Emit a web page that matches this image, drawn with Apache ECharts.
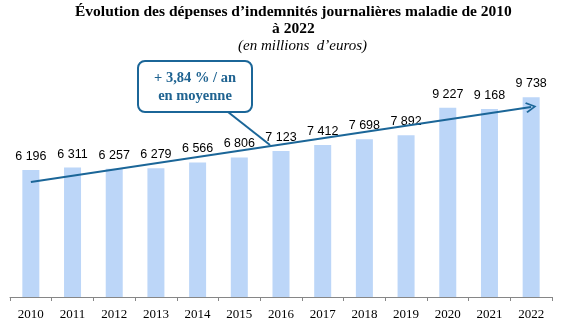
<!DOCTYPE html>
<html><head><meta charset="utf-8">
<script src="https://cdn.jsdelivr.net/npm/echarts@6/dist/echarts.min.js"></script>
<style>html,body{margin:0;padding:0;background:#fff}#c{width:566px;height:330px}</style>
</head><body><div id="c"></div>
<script>
const years = ['2010','2011','2012','2013','2014','2015','2016','2017','2018','2019','2020','2021','2022'];
const values = [6196,6311,6257,6279,6566,6806,7123,7412,7698,7892,9227,9168,9738];
const trendStart = ['2010', 5610];
const trendEnd = ['2022', 9270];
const titleLine1 = 'Évolution des dépenses d’indemnités journalières maladie de 2010';
const titleLine2 = 'à 2022';
const subtitle = '(en millions  d’euros)';
const calloutLines = ['+ 3,84 % / an', 'en moyenne'];

const fmt = v => String(v).replace(/\B(?=(\d{3})+(?!\d))/g, ' ');
const chart = echarts.init(document.getElementById('c'), null, {renderer:'canvas'});
const blue = '#1b6698';
chart.setOption({
  animation:false,
  grid:{left:10, right:14, top:51, bottom:33},
  xAxis:{type:'category', data:years,
    axisLine:{lineStyle:{color:'#868686', width:1}},
    axisTick:{show:true, length:4, lineStyle:{color:'#868686'}},
    axisLabel:{color:'#000', fontFamily:'Liberation Serif', fontSize:13, margin:11}},
  yAxis:{type:'value', min:0, max:12000, show:false, splitLine:{show:false}},
  series:[{type:'bar', data:values, barWidth:17,
    itemStyle:{color:'#bcd6f8'},
    label:{show:true, position:'top', distance:7, color:'#000', fontFamily:'Liberation Sans', fontSize:12.5, formatter:p=>fmt(p.value)},
    markLine:{silent:true, symbol:['none','path://M5,0 L10,9 L8.6,10 L5,3 L1.4,10 L0,9 Z'], symbolSize:[11,11],
      label:{show:false},
      lineStyle:{color:blue, width:2, type:'solid'},
      data:[[{coord:trendStart},{coord:trendEnd}]]}
  }],
  graphic:[
    {type:'text', left:75, top:3, style:{text:titleLine1+'\n'+titleLine2, textAlign:'center', font:'bold 15.5px "Liberation Serif"', fill:'#000', lineHeight:17}},
    {type:'text', left:238, top:39, style:{text:subtitle, font:'italic 15px "Liberation Serif"', fill:'#000'}},
    {type:'line', shape:{x1:228, y1:112, x2:270, y2:145}, style:{stroke:blue, lineWidth:2}},
    {type:'rect', shape:{x:138, y:61, width:114, height:51, r:7}, style:{fill:'#fff', stroke:blue, lineWidth:2}},
    {type:'text', left:141, top:69, style:{text:calloutLines.join('\n'), width:108, textAlign:'center', font:'bold 14.5px "Liberation Serif"', fill:'#1f6391', lineHeight:18}, x:0}
  ]
});
</script></body></html>
